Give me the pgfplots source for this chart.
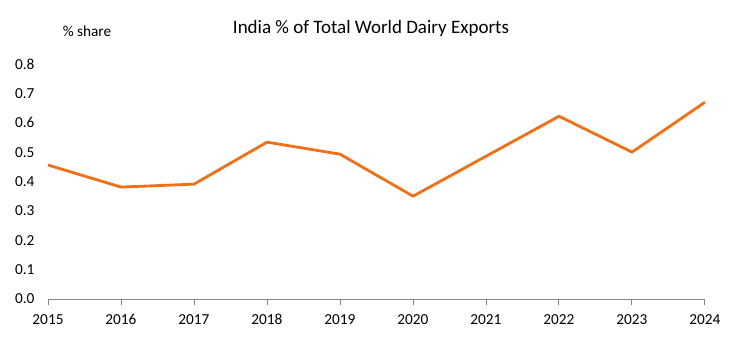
\documentclass[border=0pt]{standalone}
\usepackage{fontspec}
\setmainfont{Carlito}
\usepackage{pgfplots}
\pgfplotsset{compat=1.18}
\usetikzlibrary{calc}
\definecolor{lineorange}{RGB}{240,112,24}
\definecolor{axgray}{RGB}{134,134,134}
\begin{document}
\begin{tikzpicture}
\begin{axis}[
  name=ax,
  scale only axis,
  width=657pt, height=235pt,
  xmin=2015, xmax=2024, ymin=0, ymax=0.8,
  xtick={2015,...,2024},
  ytick={0,0.1,...,0.8},
  separate axis lines,
  axis x line*=bottom,
  axis y line*=left,
  y axis line style={draw=none},
  x axis line style={draw=axgray, line width=0.9pt, -},
  xtick style={draw=axgray, line width=0.9pt},
  ytick style={draw=none},
  tick align=outside,
  major tick length=6pt,
  /pgf/number format/assume math mode=true,
  xticklabel style={/pgf/number format/1000 sep={}, font=\fontsize{15.3}{18}\selectfont, yshift=-6pt},
  yticklabel style={/pgf/number format/fixed, /pgf/number format/fixed zerofill, /pgf/number format/precision=1, font=\fontsize{15.3}{18}\selectfont, xshift=-4pt},
  clip=false,
]
\addplot[lineorange, line width=2.8pt, line join=round] coordinates {
(2015,0.456) (2016,0.381) (2017,0.391) (2018,0.534) (2019,0.493)
(2020,0.350) (2021,0.486) (2022,0.622) (2023,0.500) (2024,0.670)};
\end{axis}
\node[anchor=center, font=\fontsize{15.3}{18}\selectfont] at ($(ax.north west)+(39pt,33pt)$) {\% share};
\node[anchor=center, font=\fontsize{19}{22}\selectfont] at ($(ax.north west)+(323pt,36pt)$) {India \% of Total World Dairy Exports};
\pgfresetboundingbox
\path[use as bounding box] ($(ax.south west)+(-48pt,-44pt)$) rectangle ($(ax.north east)+(39pt,64pt)$);
\end{tikzpicture}
\end{document}
